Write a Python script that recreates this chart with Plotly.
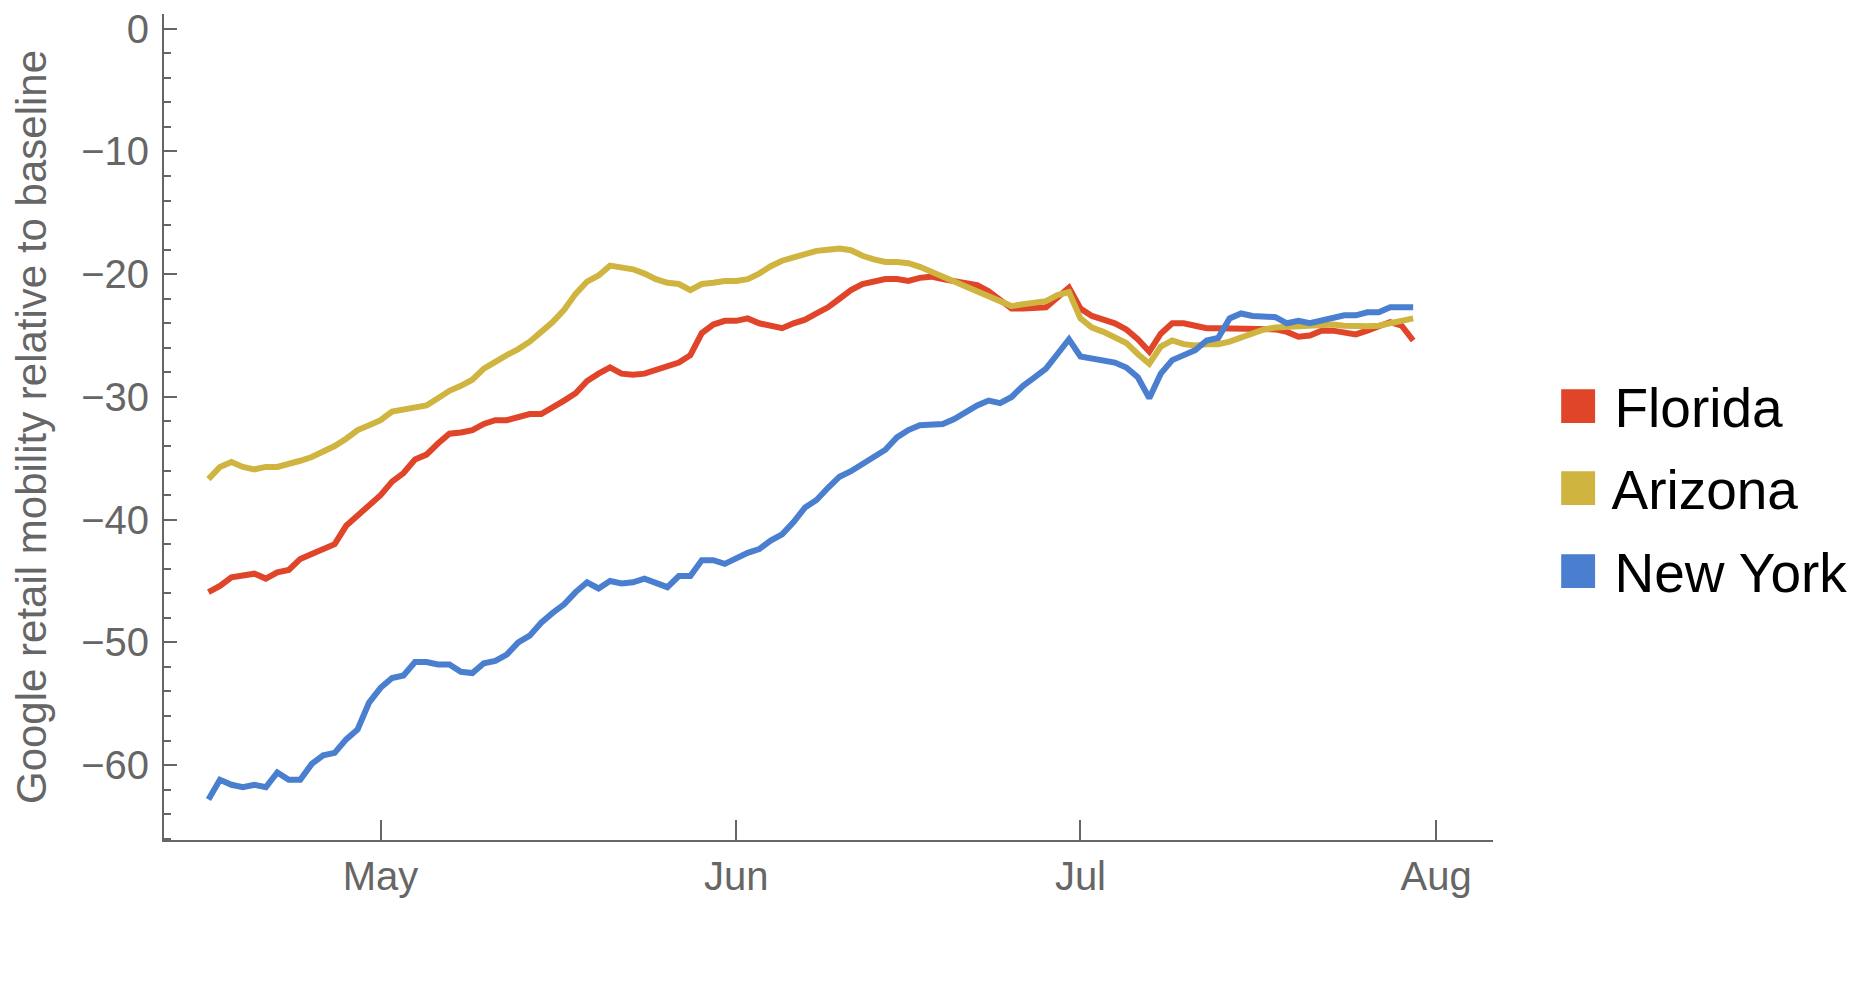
import pandas as pd
import plotly.graph_objects as go

start_date = "2020-04-16"

florida = [-45.9, -45.4, -44.7, -44.6, -44.4, -44.8, -44.3, -44.1, -43.2, -42.8,
           -42.4, -42.0, -40.5, -39.7, -38.9, -38.0, -36.9, -36.2, -35.1, -34.7,
           -33.8, -33.0, -32.9, -32.7, -32.2, -31.9, -31.9, -31.7, -31.4, -31.4,
           -30.9, -30.3, -29.7, -28.7, -28.1, -27.6, -28.1, -28.2, -28.1, -27.8,
           -27.5, -27.2, -26.6, -24.8, -24.1, -23.8, -23.8, -23.6, -24.0, -24.2,
           -24.4, -24.0, -23.7, -23.2, -22.7, -22.0, -21.3, -20.8, -20.55, -20.4,
           -20.4, -20.55, -20.3, -20.2, -20.4, -20.6, -20.7, -20.9, -21.4, -22.1,
           -22.8, -22.8, -22.8, -22.7, -21.9, -21.1, -22.8, -23.4, -23.7, -24.0,
           -24.5, -25.3, -26.3, -24.85, -24.0, -24.0, -24.2, -24.4, -24.4, -24.4,
           -24.4, -24.4, -24.5, -24.5, -24.7, -25.1, -25.0, -24.6, -24.6, -24.8,
           -24.9, -24.6, -24.25, -23.9, -24.2, -25.4]

arizona = [-36.7, -35.7, -35.3, -35.7, -35.9, -35.7, -35.7, -35.5, -35.2, -34.9,
           -34.5, -34.0, -33.4, -32.7, -32.3, -31.9, -31.2, -31.0, -30.9, -30.7,
           -30.1, -29.5, -29.1, -28.6, -27.7, -27.1, -26.6, -26.1, -25.5, -24.7,
           -23.9, -22.9, -21.6, -20.6, -20.1, -19.3, -19.4, -19.6, -19.95, -20.4,
           -20.7, -20.8, -21.3, -20.8, -20.7, -20.55, -20.55, -20.4, -19.95, -19.35,
           -18.9, -18.6, -18.3, -18.1, -18.0, -17.9, -18.05, -18.5, -18.8, -19.0,
           -19.0, -19.1, -19.4, -19.8, -20.3, -20.7, -21.1, -21.5, -21.9, -22.3,
           -22.6, -22.45, -22.3, -22.2, -21.7, -21.45, -23.6, -24.35, -24.7, -25.1,
           -25.6, -26.5, -27.3, -25.9, -25.4, -25.7, -25.8, -25.7, -25.7, -25.5,
           -25.2, -24.8, -24.5, -24.35, -24.3, -24.25, -24.2, -24.1, -24.1, -24.2,
           -24.25, -24.25, -24.2, -24.0, -23.9, -23.6]

new_york = [-62.8, -61.2, -61.6, -61.8, -61.6, -61.8, -60.6, -61.2, -61.2, -59.9,
            -59.2, -59.0, -57.9, -57.1, -54.9, -53.7, -52.9, -52.7, -51.6, -51.6,
            -51.8, -51.8, -52.4, -52.5, -51.7, -51.5, -51.0, -50.0, -49.45, -48.4,
            -47.6, -46.9, -45.9, -45.1, -45.6, -45.0, -45.2, -45.1, -44.8, -45.2,
            -45.5, -44.6, -44.6, -43.3, -43.3, -43.6, -43.1, -42.7, -42.4, -41.7,
            -41.2, -40.2, -39.0, -38.4, -37.4, -36.5, -36.05, -35.5, -34.85, -34.3,
            -33.3, -32.7, -32.3, -32.3, -32.2, -31.8, -31.2, -30.7, -30.3, -30.5,
            -30.0, -29.1, -28.4, -27.7, -26.5, -25.3, -26.7, -26.9, -27.0, -27.2,
            -27.6, -28.4, -30.1, -28.1, -27.0, -26.6, -26.2, -25.4, -25.2, -23.6,
            -23.2, -23.4, -23.4, -23.5, -24.0, -23.8, -24.0, -23.8, -23.5, -23.35,
            -23.35, -23.1, -23.1, -22.7, -22.7, -22.7]

series_names = ["Florida", "Arizona", "New York"]
series_values = [florida, arizona, new_york]
series_colors = ["#E0452A", "#CFB43F", "#4A7FCF"]

y_title = "Google retail mobility relative to baseline"

dates = pd.date_range(start_date, periods=len(florida), freq="D")

FONT = "Liberation Sans, Arial, Helvetica, sans-serif"
AXIS_GREY = "#666666"

fig = go.Figure()
for name, vals, col in zip(series_names, series_values, series_colors):
    fig.add_trace(go.Scatter(
        x=dates, y=vals, mode="lines", name=name, showlegend=False,
        line=dict(color=col, width=6), hoverinfo="x+y+name"))

# legend entries with square swatches
for i, (name, col) in enumerate(zip(series_names, series_colors)):
    fig.add_trace(go.Scatter(
        x=[None], y=[None], mode="markers",
        marker=dict(size=1, color="rgba(0,0,0,0)"),
        name=f"<span style='color:{col};font-size:70px'>■</span> {name}",
        legendgroup=f"g{i}", showlegend=True, hoverinfo="skip"))

# page body has an 8px margin, so the figure is 8px smaller and shifted
fig.update_layout(
    width=1867, height=984,
    margin=dict(l=156, r=382, t=6, b=152, autoexpand=False),
    paper_bgcolor="white", plot_bgcolor="white",
    font=dict(family=FONT, color=AXIS_GREY),
    showlegend=True,
    legend=dict(
        x=1.018, xanchor="left", y=0.426, yanchor="middle",
        font=dict(family=FONT, size=55, color="black"),
        itemwidth=30, traceorder="grouped", tracegroupgap=8,
        bgcolor="rgba(0,0,0,0)", borderwidth=0,
    ),
    xaxis=dict(
        type="date",
        range=["2020-04-12 03:00:00", "2020-08-05 23:00:00"],
        tick0="2020-05-01", dtick="M1", tickformat="%b",
        ticks="inside", ticklen=20, tickwidth=1.5, tickcolor=AXIS_GREY,
        showline=True, linecolor=AXIS_GREY, linewidth=2,
        showgrid=False, zeroline=False,
        tickfont=dict(family=FONT, size=40, color=AXIS_GREY),
        ticklabelstandoff=0,
    ),
    yaxis=dict(
        range=[-66.1, 1.2],
        tick0=0, dtick=10,
        ticks="inside", ticklen=13, tickwidth=1.5, tickcolor=AXIS_GREY,
        minor=dict(dtick=2, ticks="inside", ticklen=7, tickwidth=1.5,
                   tickcolor=AXIS_GREY, showgrid=False),
        showline=True, linecolor=AXIS_GREY, linewidth=2,
        showgrid=False, zeroline=False,
        tickfont=dict(family=FONT, size=40, color=AXIS_GREY),
        ticklabelstandoff=5,
        ticklabeloverflow="allow",
        title=dict(text=y_title, font=dict(family=FONT, size=42, color=AXIS_GREY),
                   standoff=37),
    ),
)

fig.write_html("out.html")
